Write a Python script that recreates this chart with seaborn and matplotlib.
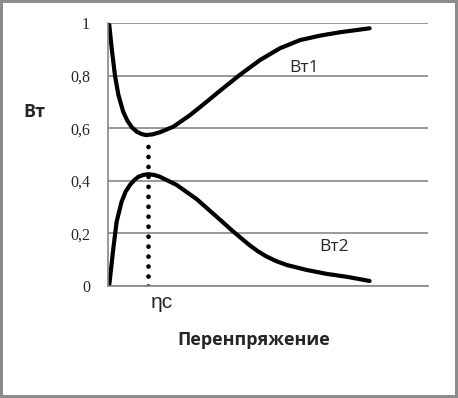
import numpy as np
import pandas as pd
import seaborn as sns
import matplotlib.pyplot as plt

# data (x in axis units 0..4)
x_bt1 = [0.016, 0.046, 0.0875, 0.13, 0.19, 0.24, 0.3, 0.36, 0.42, 0.475, 0.56, 0.65, 0.817, 1.025, 1.233, 1.4, 1.65, 1.9, 2.15, 2.4, 2.65, 2.9, 3.27]
y_bt1 = [0.994, 0.905, 0.80, 0.727, 0.663, 0.63, 0.603, 0.587, 0.578, 0.574, 0.577, 0.585, 0.606, 0.65, 0.701, 0.743, 0.804, 0.86, 0.905, 0.936, 0.953, 0.966, 0.981]
x_bt2 = [0.016, 0.067, 0.108, 0.17, 0.22, 0.275, 0.33, 0.38, 0.44, 0.505, 0.58, 0.65, 0.858, 1.108, 1.358, 1.567, 1.775, 1.88, 1.983, 2.1, 2.233, 2.483, 2.733, 2.983, 3.27]
y_bt2 = [0.003, 0.143, 0.244, 0.32, 0.358, 0.384, 0.403, 0.415, 0.422, 0.425, 0.422, 0.415, 0.384, 0.33, 0.263, 0.206, 0.153, 0.13, 0.111, 0.094, 0.079, 0.06, 0.045, 0.034, 0.018]
eta_c = 0.504
eta_c_top = 0.55
y_ticks = [0, 0.2, 0.4, 0.6, 0.8, 1]
y_tick_labels = ["0", "0,2", "0,4", "0,6", "0,8", "1"]
x_ticks = [0, 1, 2, 3, 4]

df = pd.concat([
    pd.DataFrame({"x": x_bt1, "y": y_bt1, "s": "Вт1"}),
    pd.DataFrame({"x": x_bt2, "y": y_bt2, "s": "Вт2"}),
])

sns.set_style("white")
plt.rcParams['font.family'] = ['Open Sans', 'DejaVu Sans']

fig = plt.figure(figsize=(4.58, 3.98), dpi=100)
fig.patch.set_edgecolor("#8c8c8c")
fig.patch.set_linewidth(3)
ax = fig.add_axes([0.2358, 0.2822, 0.6987, 0.6592])

sns.lineplot(data=df, x="x", y="y", hue="s", palette=["black", "black"],
             linewidth=3, legend=False, ax=ax, sort=False, estimator=None)
for line in ax.lines:
    line.set_solid_joinstyle("round")
    line.set_solid_capstyle("round")
ax.plot([eta_c, eta_c], [0, eta_c_top], color="black", linewidth=3.4,
        linestyle=(0, (0.01, 2.1)), dash_capstyle="round")

ax.set_xlim(0, 4)
ax.set_ylim(0, 1)
ax.set_yticks(y_ticks)
ax.set_yticklabels(y_tick_labels, family="Liberation Serif", fontsize=11.5)
ax.set_xticks(x_ticks)
ax.set_xticklabels([])
ax.tick_params(axis="x", direction="in", length=6, color="#888888", width=1.2)
ax.tick_params(axis="y", direction="out", length=5, color="#888888", width=1.2, pad=8)
ax.grid(axis="y", color="#888888", linewidth=1.2)
for side in ["top", "right"]:
    ax.spines[side].set_visible(False)
for side in ["left", "bottom"]:
    ax.spines[side].set_color("#888888")
    ax.spines[side].set_linewidth(1.2)
ax.set_xlabel("")
ax.set_ylabel("")

ax.text(2.45, 0.83, "Вт1", fontsize=12.5, ha="center", va="center")
ax.text(2.82, 0.149, "Вт2", fontsize=12.5, ha="center", va="center")
ax.text(0.68, -0.065, "ηc", fontsize=15, ha="center", va="center", family="Liberation Sans")
fig.text(0.553, 0.146, "Перенпряжение", fontsize=13, fontweight="bold", ha="center", va="center")
fig.text(0.075, 0.718, "Вт", fontsize=13, fontweight="bold", ha="center", va="center")

fig.savefig("out.png", dpi=100, edgecolor=fig.get_edgecolor())
